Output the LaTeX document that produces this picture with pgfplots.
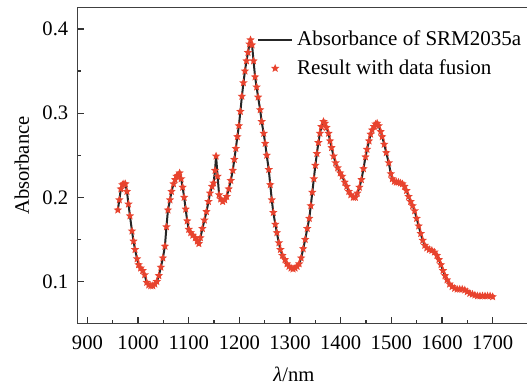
\documentclass[border=0pt]{standalone}
\usepackage{fontspec}
\setmainfont{Liberation Serif}
\usepackage{pgfplots}
\usepackage{pgfplotstable}
\pgfplotsset{compat=1.18}
\definecolor{starred}{HTML}{E8432E}
\pgfdeclareplotmark{fstar}{%
  \pgfpathmoveto{\pgfpointpolar{90}{\pgfplotmarksize}}%
  \pgfpathlineto{\pgfpointpolar{126}{0.45\pgfplotmarksize}}%
  \pgfpathlineto{\pgfpointpolar{162}{\pgfplotmarksize}}%
  \pgfpathlineto{\pgfpointpolar{198}{0.45\pgfplotmarksize}}%
  \pgfpathlineto{\pgfpointpolar{234}{\pgfplotmarksize}}%
  \pgfpathlineto{\pgfpointpolar{270}{0.45\pgfplotmarksize}}%
  \pgfpathlineto{\pgfpointpolar{306}{\pgfplotmarksize}}%
  \pgfpathlineto{\pgfpointpolar{342}{0.45\pgfplotmarksize}}%
  \pgfpathlineto{\pgfpointpolar{18}{\pgfplotmarksize}}%
  \pgfpathlineto{\pgfpointpolar{54}{0.45\pgfplotmarksize}}%
  \pgfpathclose\pgfusepathqfill}
\pgfplotstableread{
x y
960 0.185
963 0.197
966 0.210
969 0.215
972 0.216
975 0.216
978 0.207
981 0.192
984 0.178
988 0.160
991 0.148
994 0.138
998 0.127
1001 0.120
1005 0.116
1009 0.113
1013 0.108
1017 0.099
1021 0.096
1025 0.095
1029 0.095
1033 0.097
1037 0.100
1041 0.107
1045 0.117
1049 0.128
1053 0.142
1056 0.165
1059 0.185
1063 0.197
1066 0.207
1070 0.216
1073 0.221
1076 0.225
1079 0.226
1082 0.229
1085 0.222
1088 0.212
1091 0.200
1094 0.186
1097 0.172
1100 0.162
1104 0.158
1108 0.155
1113 0.152
1117 0.148
1120 0.145
1123 0.152
1127 0.163
1131 0.173
1135 0.183
1139 0.195
1142 0.205
1146 0.213
1149 0.217
1152 0.232
1154 0.249
1157 0.225
1160 0.203
1163 0.198
1167 0.195
1171 0.197
1175 0.201
1179 0.210
1183 0.220
1187 0.232
1190 0.245
1193 0.258
1196 0.272
1199 0.285
1202 0.302
1205 0.320
1208 0.336
1211 0.350
1214 0.362
1217 0.372
1220 0.382
1222 0.387
1225 0.381
1228 0.362
1231 0.343
1234 0.331
1237 0.319
1241 0.304
1244 0.290
1248 0.276
1251 0.264
1254 0.250
1258 0.233
1261 0.215
1264 0.197
1267 0.182
1271 0.168
1274 0.158
1278 0.146
1281 0.138
1285 0.131
1290 0.126
1294 0.121
1298 0.118
1302 0.116
1306 0.115
1310 0.116
1314 0.118
1318 0.121
1322 0.128
1326 0.139
1330 0.150
1334 0.163
1338 0.175
1341 0.190
1344 0.206
1347 0.222
1350 0.238
1353 0.252
1356 0.265
1359 0.276
1362 0.284
1366 0.290
1369 0.288
1372 0.283
1376 0.276
1379 0.267
1382 0.259
1386 0.249
1390 0.241
1394 0.235
1399 0.229
1403 0.225
1408 0.218
1412 0.213
1416 0.207
1420 0.203
1425 0.200
1429 0.200
1433 0.205
1437 0.212
1441 0.221
1445 0.234
1449 0.248
1452 0.257
1456 0.267
1459 0.275
1462 0.280
1466 0.284
1469 0.287
1472 0.288
1475 0.285
1479 0.278
1482 0.272
1486 0.263
1490 0.253
1495 0.241
1499 0.228
1502 0.222
1506 0.219
1510 0.218
1514 0.218
1518 0.217
1522 0.216
1526 0.213
1530 0.208
1534 0.201
1538 0.195
1542 0.190
1546 0.184
1550 0.175
1554 0.166
1558 0.157
1562 0.149
1566 0.143
1570 0.140
1575 0.138
1580 0.137
1585 0.135
1590 0.131
1594 0.126
1598 0.120
1602 0.113
1606 0.107
1610 0.102
1615 0.097
1620 0.094
1625 0.092
1630 0.091
1635 0.091
1640 0.091
1645 0.090
1650 0.088
1655 0.086
1660 0.085
1665 0.084
1670 0.083
1675 0.083
1680 0.083
1685 0.083
1690 0.083
1695 0.083
1700 0.082
}\spectrum
\begin{document}
\begin{tikzpicture}
\begin{axis}[
  scale only axis,
  width=233pt, height=158.2pt,
  xmin=880, xmax=1800,
  ymin=0.05, ymax=0.4257,
  xtick={900,1000,...,1700},
  minor x tick num=1,
  ytick={0.1,0.2,0.3,0.4},
  minor y tick num=1,
  /pgf/number format/set thousands separator={},
  yticklabel style={/pgf/number format/fixed, /pgf/number format/precision=1},
  /pgf/number format/assume math mode=true,
  tick align=inside,
  xtick pos=left, ytick pos=left,
  major tick length=3.5pt, minor tick length=2pt,
  tick style={black!80, line width=0.6pt},
  axis line style={black!75, line width=0.6pt},
  every tick label/.append style={font=\fontsize{10.3}{12}\selectfont},
  xticklabel style={yshift=-2.5pt},
  yticklabel style={xshift=-1pt},
  xlabel={{\itshape λ}/nm},
  ylabel={Absorbance},
  label style={font=\fontsize{10.3}{12}\selectfont},
  xlabel style={at={(axis description cs:0.465,-0.159)}, anchor=center},
  ylabel style={at={(axis description cs:-0.119,0.5)}, anchor=center},
  legend style={at={(axis description cs:0.385,0.94)}, anchor=north west,
    draw=none, fill=none, font=\fontsize{10.5}{12}\selectfont, row sep=1.5pt,
    inner sep=0pt},
  legend cell align=left,
]
\addplot[black!85, line width=1pt, no markers] table[x=x,y=y] {\spectrum};
\addlegendentry{Absorbance of SRM2035a}
\addplot[only marks, mark=fstar, mark size=2.2pt, color=starred] table[x=x,y=y] {\spectrum};
\addlegendentry{Result with data fusion}
\end{axis}
\pgfresetboundingbox
\useasboundingbox (-38.65pt,-30.65pt) rectangle (224.85pt,161.85pt);
\end{tikzpicture}
\end{document}
